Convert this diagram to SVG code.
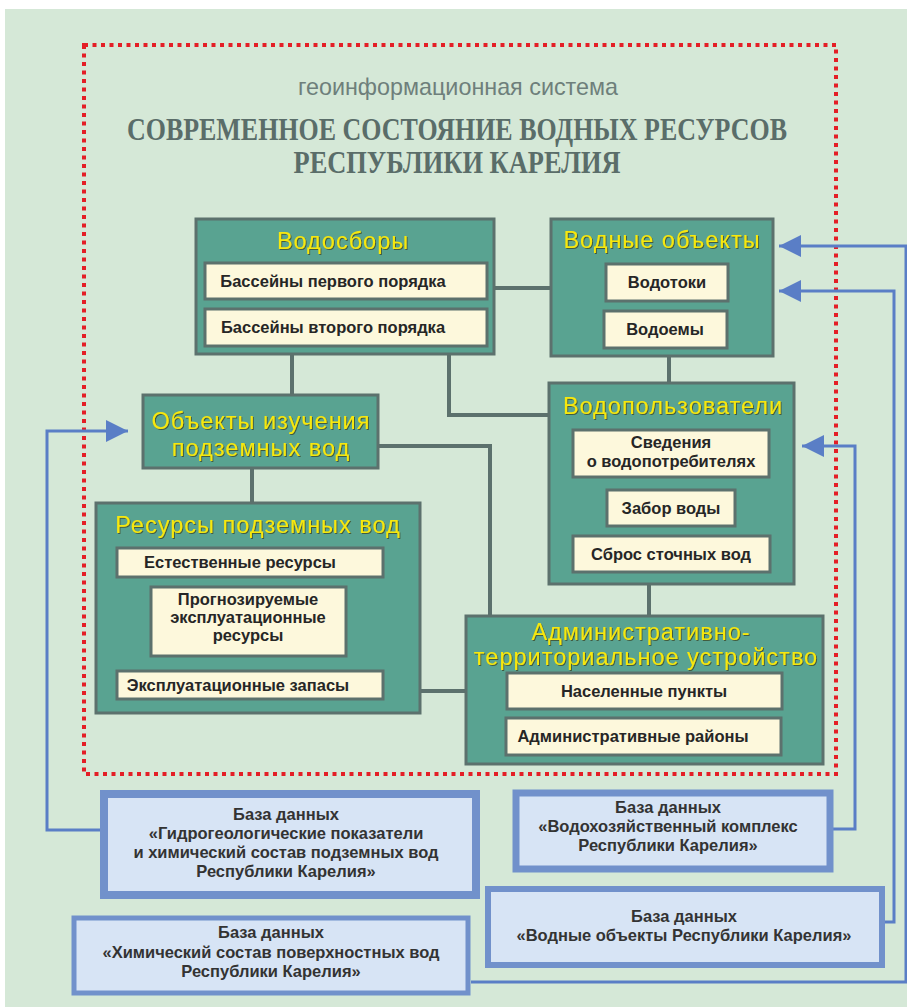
<svg xmlns="http://www.w3.org/2000/svg" width="907" height="1007" viewBox="0 0 907 1007">
<defs>
<style>
.node{fill:#59a391;stroke:#5c716d;stroke-width:3}
.inner{fill:#fdf8dc;stroke:#5c716d;stroke-width:3}
.db{fill:#d7e4f5;stroke:#7191cb}
.t{font-family:"Liberation Sans",Arial,sans-serif;font-size:23.5px;fill:#f7e80a;letter-spacing:1px;text-anchor:middle;filter:url(#sh)}
.i{font-family:"Liberation Sans",Arial,sans-serif;font-size:16.5px;font-weight:bold;fill:#262626;text-anchor:middle}
.d{font-family:"Liberation Sans",Arial,sans-serif;font-size:16.5px;font-weight:bold;fill:#333;text-anchor:middle}
.c{fill:none;stroke:#5c716d;stroke-width:4}
.b{fill:none;stroke:#5a7ec6;stroke-width:3}
</style>
<filter id="sh" x="-10%" y="-20%" width="120%" height="150%">
<feDropShadow dx="1" dy="1" stdDeviation="0.6" flood-color="#3a4a2a" flood-opacity="0.8"/>
</filter>
<marker id="ar" viewBox="0 0 22 22" refX="22" refY="11" markerWidth="22" markerHeight="22" markerUnits="userSpaceOnUse" orient="auto">
<path d="M0,0 L22,11 L0,22 Z" fill="#5a7ec6"/>
</marker>
</defs>
<rect x="0" y="0" width="907" height="1007" fill="#ffffff"/>
<rect x="5" y="9" width="902" height="998" fill="#d5e8d7"/>
<rect x="84" y="45" width="752" height="729" fill="none" stroke="#e41e26" stroke-width="4" stroke-dasharray="4 4.5"/>
<text x="458" y="95" font-family="'Liberation Sans',Arial,sans-serif" font-size="24" fill="#6e7f7b" text-anchor="middle" textLength="320" lengthAdjust="spacingAndGlyphs">геоинформационная система</text>
<text x="457" y="140" font-family="'Liberation Serif','Times New Roman',serif" font-size="31" font-weight="bold" fill="#5a6d69" text-anchor="middle" textLength="660" lengthAdjust="spacingAndGlyphs">СОВРЕМЕННОЕ СОСТОЯНИЕ ВОДНЫХ РЕСУРСОВ</text>
<text x="457" y="173" font-family="'Liberation Serif','Times New Roman',serif" font-size="31" font-weight="bold" fill="#5a6d69" text-anchor="middle" textLength="327" lengthAdjust="spacingAndGlyphs">РЕСПУБЛИКИ КАРЕЛИЯ</text>

<g id="connectors">
<path class="c" d="M494,288 H551"/>
<path class="c" d="M292,354 V395"/>
<path class="c" d="M449,354 V415 H549"/>
<path class="c" d="M669,356 V383"/>
<path class="c" d="M378,446 H490 V616"/>
<path class="c" d="M252,468 V503"/>
<path class="c" d="M649,584 V616"/>
<path class="c" d="M420,691 H466"/>
<path class="b" d="M100,830 H47 V431 H128" marker-end="url(#ar)"/>
<path class="b" d="M833,829 H855 V446 H802" marker-end="url(#ar)"/>
<path class="b" d="M885,922 H894 V291 H779" marker-end="url(#ar)"/>
<path class="b" d="M471,982 H906 V246 H779" marker-end="url(#ar)"/>
</g>

<g id="vodosbory">
<rect class="node" x="196" y="219" width="298" height="135"/>
<text class="t" x="343" y="249">Водосборы</text>
<rect class="inner" x="205" y="263" width="282" height="36"/>
<text class="i" x="333" y="287">Бассейны первого порядка</text>
<rect class="inner" x="205" y="309" width="282" height="37"/>
<text class="i" x="333" y="333">Бассейны второго порядка</text>
</g>

<g id="vodnye-obekty">
<rect class="node" x="551" y="219" width="222" height="137"/>
<text class="t" x="662" y="248">Водные объекты</text>
<rect class="inner" x="606" y="264" width="122" height="37"/>
<text class="i" x="667" y="288">Водотоки</text>
<rect class="inner" x="604" y="311" width="123" height="37"/>
<text class="i" x="665" y="335">Водоемы</text>
</g>

<g id="obekty-izucheniya">
<rect class="node" x="143" y="395" width="235" height="73"/>
<text class="t" x="261" y="429">Объекты изучения</text>
<text class="t" x="261" y="456">подземных вод</text>
</g>

<g id="vodopolzovateli">
<rect class="node" x="549" y="383" width="245" height="201"/>
<text class="t" x="673" y="414">Водопользователи</text>
<rect class="inner" x="573" y="430" width="196" height="47"/>
<text class="i" x="671" y="448">Сведения</text>
<text class="i" x="671" y="467">о водопотребителях</text>
<rect class="inner" x="607" y="490" width="128" height="36"/>
<text class="i" x="671" y="514">Забор воды</text>
<rect class="inner" x="573" y="536" width="197" height="36"/>
<text class="i" x="671" y="560">Сброс сточных вод</text>
</g>

<g id="resursy">
<rect class="node" x="96" y="503" width="324" height="210"/>
<text class="t" x="258" y="533">Ресурсы подземных вод</text>
<rect class="inner" x="117" y="548" width="266" height="29"/>
<text class="i" x="240" y="568">Естественные ресурсы</text>
<rect class="inner" x="151" y="587" width="195" height="69"/>
<text class="i" x="248" y="605">Прогнозируемые</text>
<text class="i" x="248" y="623">эксплуатационные</text>
<text class="i" x="248" y="641">ресурсы</text>
<rect class="inner" x="117" y="671" width="266" height="28"/>
<text class="i" x="238" y="691">Эксплуатационные запасы</text>
</g>

<g id="admin">
<rect class="node" x="466" y="616" width="357" height="148"/>
<text class="t" x="641" y="640">Административно-</text>
<text class="t" x="646" y="665">территориальное устройство</text>
<rect class="inner" x="507" y="673" width="275" height="36"/>
<text class="i" x="644" y="697">Населенные пункты</text>
<rect class="inner" x="506" y="718" width="275" height="37"/>
<text class="i" x="633" y="742">Административные районы</text>
</g>

<g id="db-gidro">
<rect class="db" x="104" y="794" width="372" height="101" stroke-width="8"/>
<text class="d" x="286" y="820">База данных</text>
<text class="d" x="286" y="839">«Гидрогеологические показатели</text>
<text class="d" x="286" y="858">и химический состав подземных вод</text>
<text class="d" x="286" y="877">Республики Карелия»</text>
</g>

<g id="db-vodokhoz">
<rect class="db" x="516" y="793" width="314" height="76" stroke-width="7"/>
<text class="d" x="668" y="813">База данных</text>
<text class="d" x="668" y="832">«Водохозяйственный комплекс</text>
<text class="d" x="668" y="851">Республики Карелия»</text>
</g>

<g id="db-vodnye">
<rect class="db" x="488" y="889" width="394" height="76" stroke-width="6"/>
<text class="d" x="684" y="922">База данных</text>
<text class="d" x="684" y="941">«Водные объекты Республики Карелия»</text>
</g>

<g id="db-khim">
<rect class="db" x="74" y="918" width="394" height="75" stroke-width="5"/>
<text class="d" x="271" y="938">База данных</text>
<text class="d" x="271" y="958">«Химический состав поверхностных вод</text>
<text class="d" x="271" y="977">Республики Карелия»</text>
</g>
</svg>
